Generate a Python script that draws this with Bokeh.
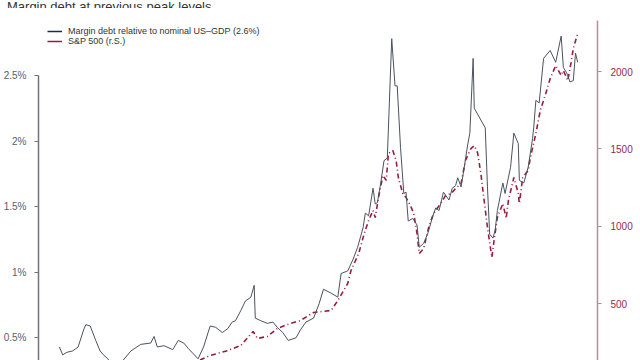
from bokeh.plotting import figure
from bokeh.layouts import column
from bokeh.models import (Range1d, LinearAxis, FixedTicker, CustomJSTickFormatter,
                          Legend, LegendItem, Div)
from bokeh.embed import file_html
from bokeh.resources import INLINE

# ---- data ----
margin_year = [1970.0, 1970.3, 1970.7, 1971.2, 1971.7, 1972.2, 1972.4, 1972.8, 1973.3, 1973.7,
               1974.0, 1974.4, 1974.8, 1975.4, 1975.8, 1976.5, 1977.4, 1978.3, 1978.6, 1978.9,
               1979.5, 1980.3, 1980.8, 1981.3, 1981.7, 1982.6, 1983.1, 1983.7, 1984.2, 1984.8,
               1985.3, 1985.7, 1986.0, 1986.5, 1986.9, 1987.4, 1987.7, 1987.8, 1988.3, 1988.9,
               1989.4, 1989.8, 1990.3, 1990.8, 1991.5, 1991.9, 1992.4, 1993.1, 1993.6, 1994.0,
               1994.7, 1995.3, 1995.6, 1996.2, 1996.7, 1997.1, 1997.6, 1997.8, 1998.1, 1998.5,
               1998.7, 1998.9, 1999.2, 1999.5, 1999.8, 2000.2, 2000.5, 2000.7, 2001.0, 2001.3,
               2001.5, 2001.7, 2002.1, 2002.5, 2002.7, 2003.1, 2003.5, 2003.9, 2004.2, 2004.5,
               2004.9, 2005.4, 2005.7, 2006.0, 2006.2, 2006.5, 2006.7, 2007.1, 2007.3, 2007.6,
               2007.7, 2008.1, 2008.5, 2008.7, 2008.9, 2009.1, 2009.4, 2009.6, 2009.8, 2010.3,
               2010.5, 2010.8, 2011.0, 2011.3, 2011.7, 2011.8, 2012.2, 2012.6, 2013.0, 2013.1,
               2013.3, 2013.6, 2014.0, 2014.6, 2015.1, 2015.6, 2015.8, 2016.1, 2016.4, 2016.7,
               2016.9, 2017.1]
margin_pct = [0.43, 0.37, 0.39, 0.40, 0.43, 0.56, 0.60, 0.59, 0.48, 0.40,
              0.37, 0.34, 0.29, 0.30, 0.33, 0.40, 0.45, 0.46, 0.51, 0.43,
              0.44, 0.41, 0.48, 0.46, 0.42, 0.34, 0.43, 0.59, 0.58, 0.54,
              0.57, 0.62, 0.63, 0.71, 0.78, 0.81, 0.90, 0.65, 0.63, 0.61,
              0.62, 0.58, 0.54, 0.48, 0.50, 0.56, 0.62, 0.65, 0.76, 0.87,
              0.84, 0.81, 0.99, 1.01, 1.10, 1.19, 1.34, 1.45, 1.43, 1.64,
              1.52, 1.53, 1.68, 1.85, 1.87, 2.78, 2.42, 2.42, 1.95, 1.60,
              1.61, 1.39, 1.41, 1.36, 1.19, 1.22, 1.30, 1.42, 1.49, 1.47,
              1.61, 1.55, 1.64, 1.66, 1.72, 1.65, 1.75, 1.97, 2.06, 2.63,
              2.25, 2.19, 2.13, 2.10, 1.65, 1.29, 1.26, 1.32, 1.47, 1.68,
              1.60, 1.72, 1.80, 2.06, 1.98, 1.70, 1.68, 1.80, 2.02, 2.10,
              2.31, 2.29, 2.63, 2.69, 2.60, 2.80, 2.56, 2.52, 2.45, 2.46,
              2.67, 2.60]

spx_year = [1970.0, 1971.0, 1972.0, 1973.0, 1974.0, 1975.0, 1976.0, 1977.0, 1978.0, 1979.0,
            1980.0, 1981.0, 1982.0, 1982.7, 1983.7, 1985.3, 1986.5, 1987.6, 1988.0, 1988.9,
            1989.8, 1990.7, 1991.9, 1993.1, 1994.7, 1995.3, 1996.2, 1996.5, 1997.2, 1997.7,
            1998.1, 1998.5, 1998.7, 1999.0, 1999.4, 1999.7, 1999.9, 2000.3, 2000.6, 2000.8,
            2001.2, 2001.5, 2001.9, 2002.2, 2002.5, 2002.7, 2003.1, 2003.6, 2004.0, 2004.7,
            2005.1, 2005.6, 2006.0, 2006.5, 2006.9, 2007.4, 2007.7, 2008.0, 2008.3, 2008.6,
            2008.9, 2009.3, 2009.5, 2009.8, 2010.3, 2010.6, 2010.8, 2011.3, 2011.7, 2011.8,
            2012.1, 2012.6, 2012.8, 2013.3, 2013.7, 2014.2, 2014.6, 2015.1, 2015.6, 2015.8,
            2016.2, 2016.5, 2016.7, 2017.1]
spx_level = [85, 100, 115, 105, 75, 90, 105, 95, 95, 105,
             125, 125, 115, 134, 166, 198, 231, 321, 276, 289,
             340, 366, 392, 444, 457, 521, 631, 715, 825, 954,
             1038, 1103, 1057, 1187, 1329, 1297, 1471, 1490, 1426, 1316,
             1213, 1187, 1135, 1083, 954, 825, 857, 1006, 1083, 1154,
             1200, 1213, 1245, 1277, 1426, 1503, 1522, 1477, 1342, 1167,
             993, 799, 909, 1058, 1148, 1051, 1167, 1316, 1213, 1148,
             1316, 1361, 1445, 1600, 1749, 1858, 1955, 2039, 1975, 2007,
             1942, 2059, 2149, 2246]

left_ticks = [0.5, 1.0, 1.5, 2.0, 2.5]
right_ticks = [500, 1000, 1500, 2000]

title_text = "Margin debt at previous peak levels"
legend_labels = ["Margin debt relative to nominal US\u2013GDP (2.6%)", "S&P 500 (r.S.)"]

FONT = "Liberation Sans"
MARGIN_COLOR = "#4b5360"
SPX_COLOR = "#981c3e"

# title strip: only the lower part of the title shows, as in the reference
title_div = Div(
    text=f'<div style="margin-top:-9px;white-space:nowrap">{title_text}</div>',
    width=640, height=8, margin=0,
    styles={"overflow": "hidden", "font-family": FONT, "font-size": "13px",
            "line-height": "13px", "color": "#333333", "padding-left": "7px"})

p = figure(width=640, height=352, output_backend="svg", toolbar_location=None,
           x_range=Range1d(1968.1, 2018.9), y_range=Range1d(0.327, 3.010),
           x_axis_location=None, y_axis_location="left", margin=0,
           min_border_left=38, min_border_right=43, min_border_top=0, min_border_bottom=0)
p.extra_y_ranges = {"spx": Range1d(133.7, 2407.6)}
p.xgrid.visible = False
p.ygrid.visible = False
p.outline_line_color = None
p.background_fill_color = "white"
p.border_fill_color = "white"

# left axis
ya = p.yaxis[0]
ya.ticker = FixedTicker(ticks=left_ticks)
ya.formatter = CustomJSTickFormatter(code="return tick + '%';")
ya.bounds = (0, 2.5)
ya.axis_line_color = "#6f7480"
ya.axis_line_width = 1.5
ya.major_tick_line_color = "#6f7480"
ya.major_tick_out = 4
ya.major_tick_in = 0
ya.minor_tick_line_color = None
ya.major_label_text_color = "#5a606b"
ya.major_label_text_font = FONT
ya.major_label_text_font_size = "10px"
ya.major_label_standoff = 8

# right axis
ra = LinearAxis(y_range_name="spx", ticker=FixedTicker(ticks=right_ticks))
ra.bounds = (0, 2330)
ra.axis_line_color = "#b98d9a"
ra.axis_line_width = 1.5
ra.major_tick_line_color = "#b98d9a"
ra.major_tick_out = 4
ra.major_tick_in = 0
ra.minor_tick_line_color = None
ra.major_label_text_color = "#8e2f4c"
ra.major_label_text_font = FONT
ra.major_label_text_font_size = "10px"
ra.major_label_standoff = 9
p.add_layout(ra, "right")

# series
p.line(spx_year, spx_level, y_range_name="spx", line_color=SPX_COLOR,
       line_width=1.6, line_dash="5 3 1 3")
p.line(margin_year, margin_pct, line_color=MARGIN_COLOR, line_width=1.0)

# legend (solid samples, renderers hold a single point so they draw nothing)
r1 = p.line(x=margin_year[:1], y=margin_pct[:1], line_color="#1e2a48", line_width=1.5)
r2 = p.line(x=spx_year[:1], y=spx_level[:1], y_range_name="spx",
            line_color="#a3173d", line_width=1.5)
legend = Legend(items=[LegendItem(label=legend_labels[0], renderers=[r1]),
                       LegendItem(label=legend_labels[1], renderers=[r2])],
                location=(9, 314), orientation="vertical",
                border_line_alpha=0, background_fill_alpha=0,
                padding=0, margin=0, spacing=0,
                glyph_width=15, glyph_height=10, label_height=10,
                label_standoff=6, label_text_font=FONT,
                label_text_font_size="9px", label_text_color="#333333")
p.add_layout(legend, "center")

layout = column(title_div, p, spacing=0, margin=0)
open("out.html", "w").write(file_html(layout, INLINE))
